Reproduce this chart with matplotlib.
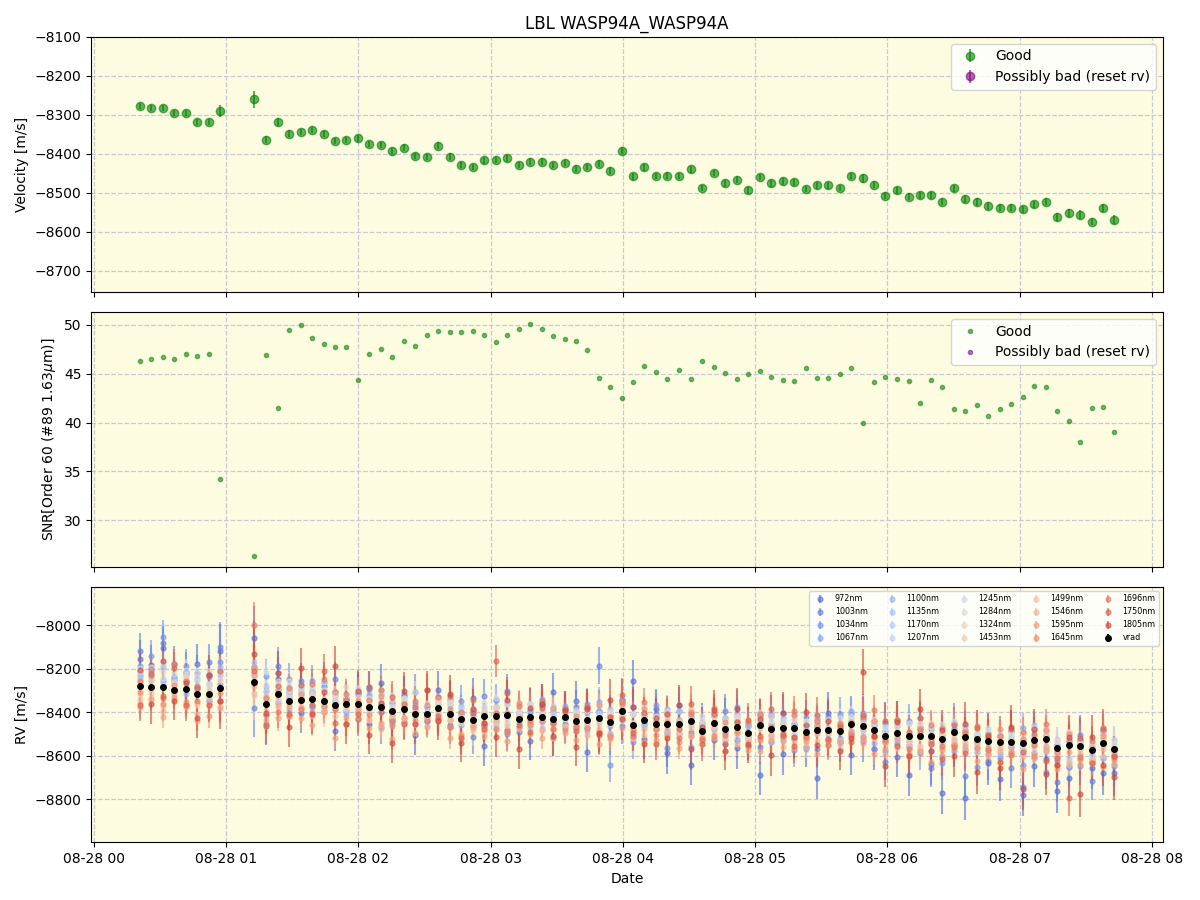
import numpy as np
import pandas as pd
import matplotlib
matplotlib.use('Agg')
import matplotlib.pyplot as plt

# Data
minutes = [20.8, 26.0, 31.3, 36.4, 41.5, 46.7, 52.2, 57.2, 72.8, 78.0, 83.5, 88.5,
           93.8, 98.9, 104.2, 109.3, 114.3, 119.6, 124.8, 130.1, 135.2, 140.5, 145.6, 150.9,
           156.1, 161.5, 166.6, 171.8, 177.0, 182.2, 187.4, 192.7, 197.9, 203.1, 208.3, 213.6,
           218.6, 223.6, 229.0, 234.2, 239.5, 244.6, 249.7, 254.9, 260.2, 265.4, 270.9, 275.9,
           281.3, 286.3, 291.7, 296.8, 302.2, 307.3, 312.5, 317.7, 323.0, 328.0, 333.1, 338.4,
           343.4, 348.8, 353.8, 359.1, 364.3, 369.7, 374.6, 380.0, 385.0, 390.4, 395.4, 400.7,
           405.9, 411.1, 416.3, 421.6, 426.6, 431.9, 437.2, 442.3, 447.5, 452.7, 457.9, 462.9]

velocity = [-8277, -8283, -8283, -8296, -8295, -8318, -8318, -8290, -8260, -8364, -8318, -8348,
            -8345, -8338, -8349, -8367, -8364, -8360, -8374, -8377, -8392, -8384, -8406, -8408,
            -8379, -8407, -8429, -8434, -8417, -8415, -8412, -8429, -8420, -8420, -8429, -8423,
            -8438, -8434, -8425, -8443, -8392, -8457, -8435, -8456, -8456, -8456, -8440, -8487,
            -8449, -8476, -8466, -8494, -8459, -8476, -8471, -8473, -8490, -8481, -8481, -8487,
            -8456, -8463, -8480, -8508, -8494, -8510, -8507, -8507, -8523, -8489, -8515, -8523,
            -8533, -8538, -8538, -8542, -8529, -8523, -8562, -8552, -8556, -8574, -8540, -8569]

vel_err = [8, 8, 8, 8, 8, 8, 8, 16, 22, 9, 10, 8,
           8, 8, 8, 8, 8, 9, 8, 8, 8, 8, 8, 8,
           8, 8, 8, 8, 8, 8, 8, 8, 8, 8, 8, 8,
           8, 8, 9, 9, 9, 9, 8, 8, 9, 8, 9, 8,
           8, 8, 9, 8, 8, 9, 9, 9, 8, 9, 9, 8,
           8, 11, 9, 9, 9, 9, 9, 9, 9, 10, 10, 10,
           10, 10, 10, 9, 9, 9, 10, 10, 11, 10, 10, 11]

snr = [46.3, 46.5, 46.7, 46.5, 47.0, 46.8, 47.0, 34.2, 26.4, 46.9, 41.5, 49.5,
       50.0, 48.6, 48.0, 47.7, 47.7, 44.3, 47.0, 47.5, 46.7, 48.3, 47.8, 48.9,
       49.3, 49.2, 49.2, 49.3, 48.9, 48.2, 48.9, 49.6, 50.1, 49.6, 48.8, 48.5,
       48.3, 47.4, 44.5, 43.6, 42.5, 44.1, 45.8, 45.2, 44.4, 45.4, 44.4, 46.3,
       45.7, 45.1, 44.4, 45.0, 45.3, 44.7, 44.3, 44.2, 45.6, 44.5, 44.5, 45.0,
       45.6, 39.9, 44.1, 44.6, 44.4, 44.2, 42.0, 44.3, 43.6, 41.4, 41.2, 41.8,
       40.7, 41.4, 41.9, 42.6, 43.7, 43.6, 41.2, 40.2, 38.0, 41.5, 41.6, 39.0]

wavelengths = ['972nm', '1003nm', '1034nm', '1067nm', '1100nm', '1135nm', '1170nm',
               '1207nm', '1245nm', '1284nm', '1324nm', '1453nm', '1499nm', '1546nm',
               '1595nm', '1645nm', '1696nm', '1750nm', '1805nm']

# typical per-band error bar half length [m/s]
band_err = [90, 80, 75, 65, 60, 55, 50, 50, 50, 45, 45, 70, 55, 50, 50, 55, 65, 75, 90]

# per-band offsets from vrad, in units of 10 m/s
dev_972 = [12, 10, 18, 5, 8, 14, -3, 17, 20, -9, 7, 4,
           -6, 3, 9, -12, 2, 5, -8, 11, -4, 6, -10, 3,
           8, -5, 2, 10, -14, 4, -7, 1, -11, 6, 12, -3,
           9, -15, 3, -6, 5, 20, -9, 7, -13, 2, -20, 4,
           -8, 5, -10, 3, -23, 6, -12, 2, -7, -22, 8, -5,
           -14, 3, -9, 6, -11, -18, 4, -13, -25, -6, -28, 2,
           -10, -17, 5, -24, -12, -9, -20, -15, 3, -8, -14, -11]
dev_1003 = [16, 7, 20, 12, 4, 10, 15, 19, -12, 6, 13, 2,
            9, -4, 7, 12, -3, 5, 8, -9, 4, -6, 10, -2,
            -5, 7, 3, -8, 9, -3, 11, -6, 2, 5, -9, 4,
            6, -4, 24, 3, -7, 8, -2, 5, -11, 9, -5, 3,
            -3, 8, -6, 4, -10, 2, 7, -5, 3, -9, 6, -4,
            5, -7, 2, -12, 6, -4, 3, -15, -8, 4, -18, -6,
            -9, 3, -12, -20, -6, 2, -16, -10, 5, -14, -7, -3]
dev_1034 = [9, 14, 23, 6, 11, 3, 8, 12, 7, 13, -4, 10,
            4, 8, -2, 6, 3, -7, 9, 1, -5, 7, 2, -3,
            5, -6, 8, 2, -4, 7, -9, 3, 6, -2, 4, -5,
            -3, 7, 2, -20, 5, -8, 3, 9, -4, 6, -12, 1,
            4, -7, 9, -3, 5, -6, 2, -10, 7, 3, -5, 8,
            -4, 6, -9, 2, -5, 7, -8, 3, -11, 1, -6, -13,
            4, -7, -2, -10, 5, -15, -6, 2, -9, -4, 6, -8]
dev_1067 = [5, 8, 3, 12, 7, 4, 9, 2, 6, -5, 10, 3,
            7, 2, -4, 6, 3, -2, 5, 8, -6, 1, 4, -3,
            2, 6, -3, 4, -5, 7, 1, -4, 3, 8, -2, 5,
            -4, 3, 7, -2, 5, -6, 2, 4, -3, 6, -7, 1,
            3, -5, 6, -2, 4, 7, -4, 2, -8, 5, 1, -3,
            6, -2, 4, -7, 3, -5, 8, -3, 2, -9, 5, -4,
            -6, 3, -2, 7, -8, 4, -3, -10, 2, -5, 6, -7]
dev_1100 = [6, 3, 9, 4, -2, 7, 5, 10, 3, 8, 2, -4,
            5, -3, 7, 2, -5, 4, 6, -2, 3, -6, 5, 1,
            -2, 4, 6, -3, 2, -5, 5, 3, -4, 7, -1, 2,
            4, -5, 3, 6, -2, 5, -3, 1, 7, -4, 2, -6,
            5, -2, 3, -6, 4, 1, -5, 6, -3, 2, -4, 7,
            -3, 5, -6, 2, -4, 6, 1, -7, 3, -5, 4, -2,
            2, -6, 5, -3, 7, -4, 1, -8, 3, -5, 4, -2]
dev_1135 = [4, 8, 2, 5, 7, 3, -2, 6, 9, 4, 2, 5,
            3, -4, 5, 2, -3, 6, -1, 4, -5, 3, 1, -2,
            4, -3, 2, 5, -4, 1, 6, -2, 3, -5, 2, 4,
            -3, 5, -2, 4, 1, -5, 3, -2, 6, -4, 2, -1,
            3, -4, 5, -1, 2, -6, 4, -3, 1, 5, -2, 3,
            -5, 2, 4, -3, 6, -2, 1, -4, 5, -6, 3, -1,
            4, -5, 2, -3, 5, -6, 1, 3, -4, 2, -7, 4]
dev_1170 = [3, 6, 1, 4, 7, 2, 5, 8, 4, 2, -3, 6,
            2, 5, -3, 4, 1, -4, 3, 6, -2, 2, -5, 3,
            -3, 2, 5, -2, 4, -4, 1, 3, -5, 2, 6, -1,
            4, -2, 1, -5, 3, 5, -3, 2, -4, 6, -2, 1,
            -2, 4, -5, 3, 1, -3, 5, -4, 2, -1, 4, -6,
            3, -4, 2, 5, -3, 1, -6, 4, -2, 3, -5, 2,
            -4, 1, 3, -5, 2, -3, 4, -6, 1, -2, 5, -3]
dev_1207 = [7, 4, 10, 3, 5, 8, 2, 6, 3, 9, 4, 7,
            1, 4, -2, 5, 3, -4, 2, 6, -3, 4, 1, -5,
            3, -2, 5, 1, -4, 4, -1, 2, 6, -3, 2, -4,
            5, -3, 2, 4, -5, 1, 3, -2, 5, -4, 2, 7,
            -3, 2, 5, -4, 1, 3, -6, 2, -2, 4, -5, 1,
            2, -5, 3, -2, 4, -4, 6, -3, 1, -5, 2, 3,
            -2, 4, -5, 1, -3, 5, -4, 2, -6, 3, -1, 4]
dev_1245 = [8, 5, 12, 3, 9, 6, 11, 4, 7, 15, 5, 3,
            6, 2, 9, -1, 4, 7, 3, 8, 2, 5, 10, 1,
            4, 7, -2, 5, 3, 8, -3, 4, 6, 2, 5, -1,
            3, 6, 1, 4, -2, 5, 7, 3, 2, -4, 6, 4,
            5, 1, 4, -3, 6, 2, 3, -2, 5, 7, -1, 4,
            2, 5, -3, 4, 6, -2, 3, 1, 7, -4, 5, 2,
            6, 3, -1, 5, 2, 4, -3, 6, 1, 3, 7, 2]
dev_1284 = [6, 9, 4, 7, 3, 10, 5, 8, 2, 6, 4, 9,
            3, 6, 1, 5, 8, -2, 4, 2, 7, 3, -1, 5,
            2, 5, 3, -2, 6, 4, 1, 7, -3, 3, 5, 2,
            4, 1, 6, 3, -3, 5, 2, 4, 6, -2, 3, 5,
            1, 5, 3, 6, -2, 4, 2, -3, 5, 3, 1, 6,
            4, -2, 5, 2, 3, 6, -1, 4, 2, 5, -3, 3,
            5, 2, 4, -2, 6, 1, 3, 5, -1, 4, 2, 3]
dev_1324 = [2, 5, 7, 3, 6, 1, 4, 8, 5, 3, 6, 2,
            4, 1, 5, 3, -2, 6, 2, 4, 1, 5, 3, -1,
            3, 5, 1, 4, 2, -3, 5, 3, 6, 1, -2, 4,
            2, 4, -1, 5, 3, 1, 6, -2, 4, 2, 5, 3,
            4, 2, 5, -1, 3, 6, 1, 4, -2, 3, 5, 2,
            1, 4, 3, -2, 5, 2, 4, 6, 1, -3, 3, 5,
            3, 1, 5, 2, -2, 4, 3, 6, 2, 1, 4, -1]
dev_1453 = [-4, 3, -8, 2, 6, -5, 1, 4, -6, 3, -2, 5,
            -3, 2, -5, 4, -1, 3, -6, 2, 5, -4, 1, -2,
            4, -3, 1, -5, 2, 3, -4, 6, -2, 1, -3, 2,
            -2, 5, -3, 1, 4, -6, 2, -1, 3, -4, 5, -2,
            3, -4, 2, -2, 5, -3, 1, 4, -5, 2, -1, 3,
            -5, 2, 4, -3, 1, -2, 6, -4, 3, -1, 2, -6,
            2, -3, 1, 4, -5, 3, -2, 5, -1, -4, 2, 1]
dev_1499 = [-6, -3, -9, -2, -7, -4, -1, -8, -5, -3, -6, -2,
            -4, -7, -2, -5, -1, -6, -3, -8, -2, -4, -5, -1,
            -3, -6, -1, -4, -7, -2, -5, 1, -3, -6, -2, -4,
            -5, -2, -6, -1, -4, -3, -7, -2, -5, 1, -3, -6,
            -2, -5, -3, -6, -1, -4, -2, -7, -3, -5, 0, -4,
            -6, -1, -4, -3, -7, -2, -5, -1, -4, -6, -2, -3,
            -4, -2, -6, -3, -1, -5, -3, -7, -2, -4, -6, -1]
dev_1546 = [-8, -5, -11, -3, -7, -9, -4, -6, -2, -10, -5, -7,
            -3, -8, -5, -2, -9, -4, -6, -10, -3, -7, -5, -2,
            -6, -3, -9, -4, -7, -2, -8, -5, -3, -6, -9, -4,
            -2, -7, -5, -8, -3, -6, -4, -9, -2, -5, -7, -3,
            -5, -2, -8, -4, -6, -3, -9, -5, -7, -2, -4, -8,
            -3, -6, -4, -9, -2, -5, -7, -3, -8, -4, -6, -2,
            -7, -4, -2, -6, -8, -3, -5, -9, -4, -6, -3, -7]
dev_1595 = [-10, -6, -14, -4, -8, -12, -5, -9, 3, -7, -11, -3,
            -8, -12, -5, -15, -6, -3, -10, -7, -13, -4, -9, -6,
            -5, -11, -7, -3, -9, -6, -12, -4, -8, -10, -5, -7,
            -9, -4, -12, -6, -8, -3, -10, -7, -5, -11, -6, -4,
            -7, -10, -3, -8, -12, -5, -6, -9, -4, -11, -7, -5,
            -4, -8, -11, -6, -3, -9, -7, -12, -5, -8, -4, -10,
            -6, -9, -4, -12, -7, -5, -10, -3, -8, -6, -11, -5]
dev_1645 = [-3, 5, -8, 2, -6, 4, -10, -2, 7, -5, 1, -7,
            3, -6, -2, 6, -9, 1, -4, 5, -7, 2, -3, 4,
            -5, 2, -8, 4, -3, -6, 1, 7, -4, -2, 5, -6,
            2, -4, 6, -7, 3, -2, 5, -5, 1, -8, 4, -3,
            -6, 3, -2, 5, -7, 1, -4, 6, -3, 2, -5, 4,
            1, -5, 4, -3, 6, -8, 2, -2, 5, -6, 3, -4,
            -3, 6, -5, 2, -7, 4, -2, 5, -6, 1, 3, -4]
dev_1696 = [2, 8, -5, 12, 4, -3, 9, -6, 26, 3, -8, 6,
            -4, 7, 10, -2, 5, -7, 3, 8, -5, 2, 6, -3,
            5, -6, 3, 9, -4, 1, -8, 6, -2, 7, -5, 4,
            -3, 6, -7, 2, 4, -5, 8, -2, 5, -6, 3, -4,
            7, -3, 2, -6, 5, 1, -4, 8, -2, 4, -7, 3,
            -5, 4, 9, -2, 6, -6, 3, 5, -3, -7, 2, 6,
            -4, 3, -6, 5, -2, 7, -8, 2, -5, 4, 6, -3]
dev_1750 = [-9, 6, -4, 10, -7, 3, -5, 8, 5, -10, 4, -6,
            7, -3, 14, -8, 2, -5, 9, -2, 6, -7, 3, 11,
            -4, 8, -9, 3, -6, 25, 10, -3, -7, 4, -2, 4,
            -5, 6, -8, 2, 7, -4, 3, -9, 5, -2, 8, -6,
            4, -7, 2, 6, -5, 9, -3, -8, 3, 7, -4, 2,
            -8, 5, -3, 7, -6, 2, 8, -4, -9, 3, -7, 5,
            2, -9, 6, -4, 3, -10, -5, -24, 4, -6, 7, -3]
dev_1805 = [7, -8, 12, -5, 3, -11, 9, -6, 13, -4, 10, -12,
            15, -7, 4, 18, -9, 6, -13, 2, -15, 8, -5, 11,
            -6, 9, -11, 5, -3, -10, 7, -14, 4, 6, -8, 3,
            -12, 5, -7, 10, -4, 8, -11, 3, -6, 9, -13, 2,
            6, -10, 8, -5, 3, -12, 7, -4, 9, -7, 4, -9,
            -6, 25, -3, -14, 5, -9, 12, -7, 4, -11, 6, -15,
            3, -12, 7, -21, 5, -16, -8, 4, -22, 6, -10, -13]

deviations = [dev_972, dev_1003, dev_1034, dev_1067, dev_1100, dev_1135, dev_1170,
              dev_1207, dev_1245, dev_1284, dev_1324, dev_1453, dev_1499, dev_1546,
              dev_1595, dev_1645, dev_1696, dev_1750, dev_1805]

# Build arrays
dates = (pd.Timestamp('2023-08-28') + pd.to_timedelta(minutes, unit='m')).to_numpy()
velocity = np.array(velocity, dtype=float)
vel_err = np.array(vel_err, dtype=float)
err_scale = np.sqrt(vel_err / 8.0)

bg = '#fdfce1'
grid_kw = dict(linestyle='--', color='#c9c9d6', linewidth=0.9)

fig, axes = plt.subplots(3, 1, figsize=(12, 9), sharex=True)
fig.subplots_adjust(left=0.076, right=0.969, top=0.959, bottom=0.064, hspace=0.078)
ax1, ax2, ax3 = axes

# Panel 1: velocity
ax1.errorbar(dates, velocity, yerr=vel_err, fmt='o', color='green', ms=6,
             alpha=0.6, label='Good')
ax1.errorbar([], [], yerr=[], fmt='o', color='purple', ms=6, alpha=0.6,
             label='Possibly bad (reset rv)')
ax1.set_ylim(-8755, -8100)
ax1.set_ylabel('Velocity [m/s]')
ax1.set_title('LBL WASP94A_WASP94A')
ax1.legend(loc='upper right')

# Panel 2: SNR
ax2.plot(dates, snr, 'o', color='green', ms=3, alpha=0.55, label='Good')
ax2.plot([], [], 'o', color='purple', ms=3, alpha=0.55, label='Possibly bad (reset rv)')
ax2.set_ylabel('SNR[Order 60 (#89 1.63$\\mu$m)]')
ax2.legend(loc='upper right')

# Panel 3: per-band RV
colors = plt.cm.coolwarm(np.linspace(0.08, 0.92, len(wavelengths)))
for i, name in enumerate(wavelengths):
    rv = velocity + np.array(deviations[i]) * 10.0
    ax3.errorbar(dates, rv, yerr=band_err[i] * err_scale, fmt='o', ms=3.5,
                 color=colors[i], alpha=0.6, label=name)
ax3.errorbar(dates, velocity, yerr=vel_err, fmt='o', ms=4, color='black', label='vrad')
ax3.set_ylim(-8998, -7825)
ax3.set_ylabel('RV [m/s]')
ax3.set_xlabel('Date')
ax3.legend(loc='upper right', ncol=5, fontsize='xx-small')

for ax in axes:
    ax.set_facecolor(bg)
    ax.grid(True, **grid_kw)
    ax.set_axisbelow(True)

plt.savefig('out.png', dpi=100)
